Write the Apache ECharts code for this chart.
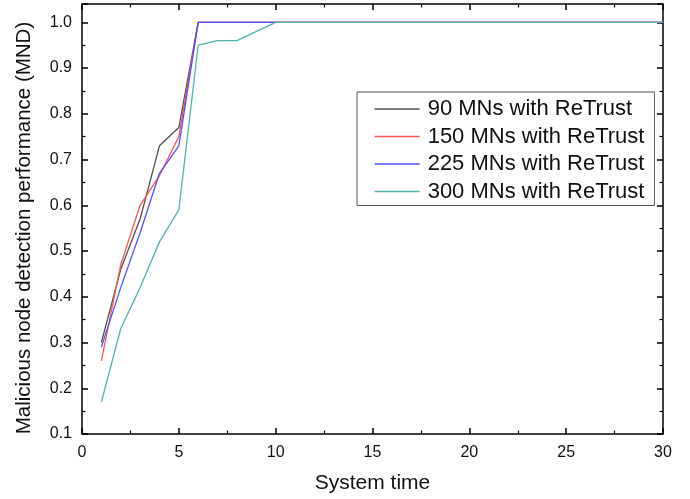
<!DOCTYPE html>
<html>
<head>
<meta charset="utf-8">
<script src="https://cdn.jsdelivr.net/npm/echarts@6/dist/echarts.min.js"></script>
<style>
  html, body { margin: 0; padding: 0; background: #fff; }
  #chart { width: 690px; height: 499px; }
</style>
</head>
<body>
<div id="chart"></div>
<script>
// Sample instants of the system clock
const systemTime = [1, 2, 3, 4, 5, 6, 7, 8, 10, 15, 20, 25, 30];

// Malicious node detection (MND) ratio per network size
const mn90 = [0.30, 0.46, 0.57, 0.73, 0.77, 1.0, 1.0, 1.0, 1.0, 1.0, 1.0, 1.0, 1.0];
const mn150 = [0.26, 0.47, 0.60, 0.665, 0.75, 1.0, 1.0, 1.0, 1.0, 1.0, 1.0, 1.0, 1.0];
const mn225 = [0.29, 0.42, 0.54, 0.67, 0.73, 1.0, 1.0, 1.0, 1.0, 1.0, 1.0, 1.0, 1.0];
const mn300 = [0.17, 0.33, 0.42, 0.52, 0.59, 0.95, 0.96, 0.96, 1.0, 1.0, 1.0, 1.0, 1.0];

const seriesNames = ['90 MNs with ReTrust', '150 MNs with ReTrust', '225 MNs with ReTrust', '300 MNs with ReTrust'];
const seriesColors = ['#505050', '#ff5555', '#5050ff', '#4fb5b0'];
const seriesValues = [mn90, mn150, mn225, mn300];

const xTicks = ['0', '5', '10', '15', '20', '25', '30'];

const font = 'Liberation Sans, Arial, sans-serif';

const chart = echarts.init(document.getElementById('chart'));

// Only label the tenths, not the padded top of the range
function yTickLabel(v) {
  const r = Math.round(v * 10) / 10;
  if (Math.abs(r - v) > 1e-6 || r > 1.0001) return '';
  return r.toFixed(1);
}

// Shared look of the four frame axes: inward ticks with one minor tick between
function frameAxis(extra) {
  return Object.assign({
    axisLine: { show: true, onZero: false, lineStyle: { color: '#000', width: 1.5 } },
    axisTick: { show: true, inside: true, length: 6, lineStyle: { color: '#000', width: 1.5 } },
    minorTick: { show: true, splitNumber: 2, length: 3.5, lineStyle: { color: '#000', width: 1.2 } },
    splitLine: { show: false },
    minorSplitLine: { show: false }
  }, extra);
}

chart.setOption({
  animation: false,
  backgroundColor: '#fff',
  grid: { left: 82, right: 27, top: 4, bottom: 62 },
  legend: {
    orient: 'vertical',
    left: 357,
    top: 92,
    padding: [6, 10, 3, 17],
    itemGap: 5.5,
    itemWidth: 45,
    itemHeight: 10,
    borderColor: '#555',
    borderWidth: 1,
    backgroundColor: '#fff',
    itemStyle: { opacity: 0 },
    lineStyle: { width: 1.3 },
    textStyle: { fontFamily: font, fontSize: 22, color: '#111', padding: [0, 0, 0, 3] },
    data: seriesNames
  },
  xAxis: [
    frameAxis({
      type: 'value', min: 0, max: 30, interval: 5, position: 'bottom',
      name: 'System time', nameLocation: 'middle', nameGap: 39,
      nameTextStyle: { fontFamily: font, fontSize: 21, color: '#111' },
      axisLabel: {
        fontFamily: font, fontSize: 16, color: '#111', margin: 11,
        formatter: v => (xTicks.indexOf(String(v)) >= 0 ? String(v) : '')
      }
    }),
    frameAxis({ type: 'value', min: 0, max: 30, interval: 5, position: 'top', axisLabel: { show: false } })
  ],
  yAxis: [
    frameAxis({
      type: 'value', min: 0.1, max: 1.04, interval: 0.1, position: 'left',
      name: 'Malicious node detection performance (MND)', nameLocation: 'middle', nameGap: 47,
      nameTextStyle: { fontFamily: font, fontSize: 20.5, color: '#111', padding: [0, 18, 0, 0] },
      axisLabel: { fontFamily: font, fontSize: 16, color: '#111', margin: 10, formatter: yTickLabel }
    }),
    frameAxis({ type: 'value', min: 0.1, max: 1.04, interval: 0.1, position: 'right', axisLabel: { show: false } })
  ],
  series: seriesNames.map((name, i) => ({
    name: name,
    type: 'line',
    showSymbol: false,
    symbol: 'none',
    itemStyle: { color: seriesColors[i] },
    lineStyle: { color: seriesColors[i], width: 1.3 },
    data: systemTime.map((t, k) => [t, seriesValues[i][k]])
  }))
});
</script>
</body>
</html>
